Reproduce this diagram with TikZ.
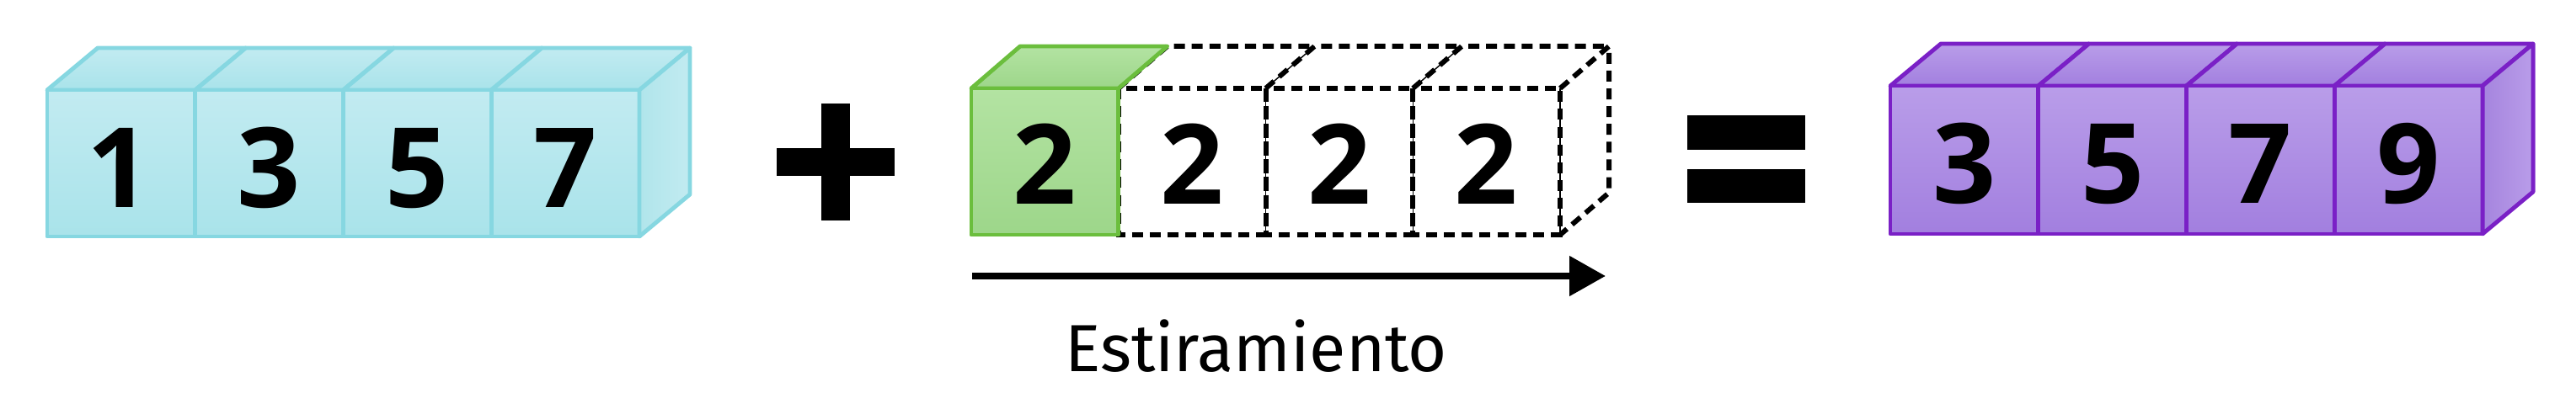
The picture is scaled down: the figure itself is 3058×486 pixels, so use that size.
\documentclass[tikz,border=0pt]{standalone}
\usepackage{fontspec}
\setmainfont{Fira Sans}
\newfontfamily\digitfont{Open Sans}
\usetikzlibrary{arrows.meta}
\definecolor{cyT}{HTML}{C2EBF1}
\definecolor{cyB}{HTML}{A9E3EA}
\definecolor{cyL}{HTML}{86D7E1}
\definecolor{cyS}{HTML}{B0E5EB}
\definecolor{grT}{HTML}{B3E3A2}
\definecolor{grB}{HTML}{9DD68A}
\definecolor{grL}{HTML}{6BBE3D}
\definecolor{puT}{HTML}{B99DE9}
\definecolor{puB}{HTML}{A27FDF}
\definecolor{puL}{HTML}{7A20C6}
\definecolor{puS}{HTML}{A584DE}
\tikzset{
  edge/.style={line width=1.4pt, line join=round},
  dashedge/.style={line width=1.7pt, draw=black, dash pattern=on 3.7pt off 2.3pt},
  thinedge/.style={line width=0.4pt, draw=black},
  digit/.style={anchor=base, inner sep=0pt, font=\digitfont\fontsize{37.5}{40}\selectfont\bfseries},
  caption/.style={anchor=base, inner sep=0pt, font=\fontsize{22.5}{26}\selectfont},
  bar/.style={fill=black, draw=none}
}
% #1 x0, #2 top, #3 bottom, #4 cell width, #5 dx, #6 dy, #7 colour prefix, #8 index
\newcommand\solidcell[8]{%
  \pgfmathsetmacro\xa{#1+#8*#4}%
  \pgfmathsetmacro\xb{#1+(#8+1)*#4}%
  \path[edge, top color=#7T, bottom color=#7B, draw=#7L] (\xa,#2) -- (\xa+#5,#2-#6) -- (\xb+#5,#2-#6) -- (\xb,#2) -- cycle;
  \path[edge, top color=#7T, bottom color=#7B, draw=#7L] (\xa,#2) rectangle (\xb,#3);
}
\newcommand\solidside[7]{%
  \pgfmathsetmacro\xe{#1+4*#4}%
  \path[edge, left color=#7S, right color=#7T, draw=#7L] (\xe,#2) -- (\xe+#5,#2-#6) -- (\xe+#5,#3-#6) -- (\xe,#3) -- cycle;
}
\begin{document}
\begin{tikzpicture}[x=0.01cm,y=-0.01cm]
\useasboundingbox (0,0) rectangle (3058,486);
% ---- cyan block
\foreach \k in {0,1,2,3}{\solidcell{56}{107}{281}{175.75}{60}{50}{cy}{\k}}
\solidside{56}{107}{281}{175.75}{60}{50}{cy}
\node[digit] (c1) at (141,247) {1};
\node[digit] (c2) at (319.6,247) {3};
\node[digit] (c3) at (495.4,247) {5};
\node[digit] (c4) at (671.1,247) {7};
% ---- plus
\fill[bar] (975,123) rectangle (1009,262);
\fill[bar] (922,176) rectangle (1062,209);
% ---- stretched block
\foreach \k in {1,2,3}{
  \pgfmathsetmacro\xa{1153+\k*174.75}
  \pgfmathsetmacro\xb{1153+(\k+1)*174.75}
  \draw[dashedge] (\xa,105) -- (\xa+58,55) -- (\xb+58,55);
  \draw[dashedge] (\xa,105) rectangle (\xb,279);
}
\draw[thinedge] (1502.5,105) -- (1560.5,55);
\draw[thinedge] (1677.25,105) -- (1735.25,55);
\draw[thinedge] (1502.5,105) -- (1502.5,279);
\draw[thinedge] (1677.25,105) -- (1677.25,279);
\draw[thinedge] (1852,105) -- (1852,279);
\draw[dashedge] (1852,105) -- (1910,55) -- (1910,229) -- (1852,279);
\solidcell{1153}{105}{279}{174.75}{58}{50}{gr}{0}
\node[digit] (g1) at (1240.4,243) {2};
\node[digit] (g2) at (1415.1,243) {2};
\node[digit] (g3) at (1589.9,243) {2};
\node[digit] (g4) at (1764.6,243) {2};
% ---- arrow
\coordinate (arrS) at (1154,328);
\coordinate (arrE) at (1906,328);
\draw[line width=2.3pt, -{Triangle[length=4.3mm,width=4.6mm]}] (arrS) -- (arrE);
\node[caption] (est) at (1491,442) {Estiramiento};
% ---- equals
\fill[bar] (2003,137) rectangle (2143,178);
\fill[bar] (2003,201) rectangle (2143,241);
% ---- purple block
\foreach \k in {0,1,2,3}{\solidcell{2244}{102}{278}{175.75}{60}{50}{pu}{\k}}
\solidside{2244}{102}{278}{175.75}{60}{50}{pu}
\node[digit] (p1) at (2331.9,242) {3};
\node[digit] (p2) at (2507.6,242) {5};
\node[digit] (p3) at (2683.4,242) {7};
\node[digit] (p4) at (2859.1,242) {9};
\end{tikzpicture}
\end{document}
